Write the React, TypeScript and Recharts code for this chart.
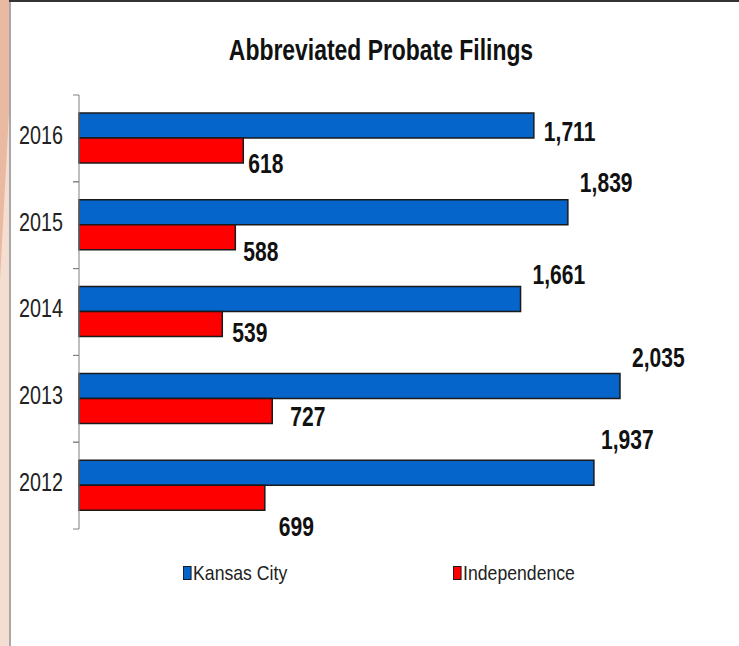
import React from 'react';
import { BarChart, Bar, XAxis, YAxis, LabelList, Legend } from 'recharts';

// ---- data ----
const years = ['2016', '2015', '2014', '2013', '2012'];
const kansasCity = [1711, 1839, 1661, 2035, 1937];
const independence = [618, 588, 539, 727, 699];
const seriesNames = ['Kansas City', 'Independence'];
const chartTitle = 'Abbreviated Probate Filings';

const data = years.map((year, i) => ({
  year,
  kc: kansasCity[i],
  ind: independence[i],
}));

// ---- style / layout ----
const W = 739;
const H = 646;
const MARGIN = { top: 95, right: 22, bottom: 117, left: 10 };
const BAND = (H - MARGIN.top - MARGIN.bottom) / years.length;
const FONT = '"Liberation Sans", Arimo, Arial, sans-serif';
const BLUE = '#0565CB';
const RED = '#FF0000';
const STROKE = '#1a1a1a';

// label nudges (dx from bar end, dy from bar centre) — mimic hand-placed labels
const kcNudge = [[10, 6], [12, -30], [12, -25], [12, -28], [7, -33]];
const indNudge = [[5, 13], [8, 14], [10, 8], [18, 6], [14, 29]];

const makeLabel = (nudge: number[][]) => (props: any) => {
  const { x, y, width, height, value, index } = props;
  const [dx, dy] = nudge[index] || [6, 0];
  const cx = Number(x) + Number(width) + dx;
  const cy = Number(y) + Number(height) / 2 + dy;
  return (
    <text
      x={0}
      y={0}
      transform={`translate(${cx} ${cy}) scale(0.78 1)`}
      textAnchor="start"
      dominantBaseline="central"
      fontFamily={FONT}
      fontWeight="bold"
      fontSize={27}
      fill="#111"
    >
      {Number(value).toLocaleString('en-US')}
    </text>
  );
};

const YTick = (props: any) => {
  const { x, y, payload } = props;
  const half = BAND / 2;
  const x1 = x + 10;
  const x2 = x + 16;
  return (
    <g>
      <line x1={x1} x2={x2} y1={y - half} y2={y - half} stroke="#808080" strokeWidth={1} />
      <line x1={x1} x2={x2} y1={y + half} y2={y + half} stroke="#808080" strokeWidth={1} />
      <text
        x={0}
        y={0}
        transform={`translate(${x} ${y - 3}) scale(0.79 1)`}
        textAnchor="end"
        dominantBaseline="central"
        fontFamily={FONT}
        fontSize={25}
        fill="#222"
      >
        {payload.value}
      </text>
    </g>
  );
};

const renderLegend = () => {
  const items = [
    { name: seriesNames[0], color: BLUE, left: 183 },
    { name: seriesNames[1], color: RED, left: 453 },
  ];
  return (
    <div style={{ position: 'relative', width: W, height: 30 }}>
      {items.map((it) => (
        <div
          key={it.name}
          style={{
            position: 'absolute',
            left: it.left,
            top: 0,
            display: 'flex',
            alignItems: 'center',
            fontFamily: FONT,
            fontSize: 21,
            color: '#222',
            lineHeight: '26px',
            transform: 'scaleX(0.84)',
            transformOrigin: '0 0',
            whiteSpace: 'nowrap',
          }}
        >
          <span
            style={{
              display: 'inline-block',
              width: 8,
              height: 12,
              background: it.color,
              border: `1px solid ${STROKE}`,
              marginRight: 2,
            }}
          />
          <span>{it.name}</span>
        </div>
      ))}
    </div>
  );
};

export default function App() {
  return (
    <div
      style={{
        position: 'absolute',
        left: 0,
        top: 0,
        width: W,
        height: H,
        background: '#fff',
        overflow: 'hidden',
      }}
    >
      {/* left decorative stripe */}
      <div style={{ position: 'absolute', left: 0, top: 0, width: 9, height: H, background: '#f4ddd1' }} />
      <div
        style={{
          position: 'absolute',
          left: 0,
          top: 0,
          width: 9,
          height: 280,
          background: '#e9b9a1',
          clipPath: 'polygon(0 0, 100% 0, 100% 40%, 0 100%)',
        }}
      />
      <div style={{ position: 'absolute', left: 9, top: 0, width: 2, height: H, background: '#a8a8a8' }} />
      <div style={{ position: 'absolute', left: 9, top: 0, width: W - 9, height: 2, background: '#333' }} />

      {/* title */}
      <div
        style={{
          position: 'absolute',
          left: 0,
          top: 32,
          width: 762,
          textAlign: 'center',
          fontFamily: FONT,
          fontWeight: 'bold',
          fontSize: 29,
          color: '#111',
          lineHeight: '36px',
          transform: 'scaleX(0.79)',
          transformOrigin: '381px 0',
          whiteSpace: 'nowrap',
        }}
      >
        {chartTitle}
      </div>

      <div style={{ position: 'absolute', left: 0, top: 0 }}>
        <BarChart
          width={W}
          height={H}
          data={data}
          layout="vertical"
          margin={MARGIN}
          barSize={25}
          barGap={0}
        >
          <XAxis type="number" domain={[0, 2400]} hide />
          <YAxis
            type="category"
            dataKey="year"
            width={69}
            axisLine={{ stroke: '#808080', strokeWidth: 1 }}
            tickLine={false}
            tickSize={6}
            tickMargin={10}
            tick={<YTick />}
            interval={0}
          />
          <Bar dataKey="kc" name={seriesNames[0]} fill={BLUE} stroke={STROKE} strokeWidth={1.5} isAnimationActive={false}>
            <LabelList dataKey="kc" content={makeLabel(kcNudge)} />
          </Bar>
          <Bar dataKey="ind" name={seriesNames[1]} fill={RED} stroke={STROKE} strokeWidth={1.5} isAnimationActive={false}>
            <LabelList dataKey="ind" content={makeLabel(indNudge)} />
          </Bar>
          <Legend
            layout="horizontal"
            verticalAlign="middle"
            align="center"
            wrapperStyle={{ top: 560, left: 0, width: W }}
            content={renderLegend}
          />
        </BarChart>
      </div>
    </div>
  );
}
